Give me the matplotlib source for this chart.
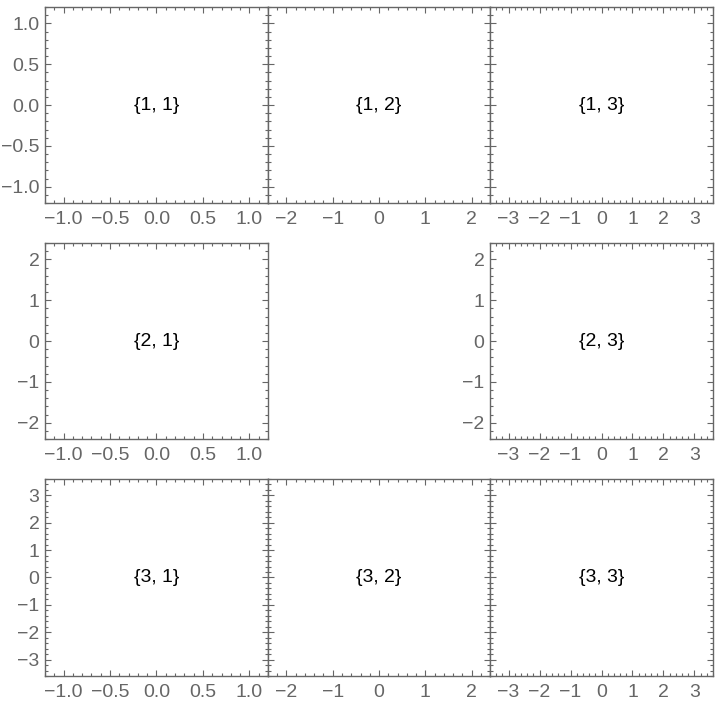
import matplotlib.pyplot as plt
from matplotlib.ticker import MultipleLocator, FuncFormatter

plt.rcParams['font.family'] = ['Liberation Sans', 'DejaVu Sans']

# grid cells, the centre one stays empty
cells = [(1, 1), (1, 2), (1, 3), (2, 1), (2, 3), (3, 1), (3, 2), (3, 3)]
half_range = [1.2, 2.4, 3.6]          # plot range per row / column index
major_step = [0.5, 1.0, 1.0]
minor_step = [0.1, 0.2, 0.2]
fmt_decimals = [1, 0, 0]

# panel boxes in figure fraction
col_x = [(0.0625, 0.3722), (0.3722, 0.6806), (0.6806, 0.9903)]
row_y = [(0.7116, 0.9900), (0.3764, 0.6548), (0.0398, 0.3196)]

gray = '#666666'

def make_fmt(d):
    def f(v, pos):
        s = f"{v:.{d}f}"
        if s.startswith('-'):
            s = '\u2212' + s[1:]
        if s == '\u22120' or s == '\u22120.0':
            s = s[1:]
        return s
    return FuncFormatter(f)

fig = plt.figure(figsize=(7.2, 7.04), dpi=100)

for (i, j) in cells:
    x0, x1 = col_x[j - 1]
    y0, y1 = row_y[i - 1]
    ax = fig.add_axes([x0, y0, x1 - x0, y1 - y0])
    ax.set_xlim(-half_range[j - 1], half_range[j - 1])
    ax.set_ylim(-half_range[i - 1], half_range[i - 1])
    ax.xaxis.set_major_locator(MultipleLocator(major_step[j - 1]))
    ax.xaxis.set_minor_locator(MultipleLocator(minor_step[j - 1]))
    ax.yaxis.set_major_locator(MultipleLocator(major_step[i - 1]))
    ax.yaxis.set_minor_locator(MultipleLocator(minor_step[i - 1]))
    ax.xaxis.set_major_formatter(make_fmt(fmt_decimals[j - 1]))
    ax.yaxis.set_major_formatter(make_fmt(fmt_decimals[i - 1]))
    show_y = (j == 1) or (i == 2)
    ax.tick_params(which='both', direction='in', top=True, right=True,
                   color=gray, width=0.8, labelcolor=gray, labelsize=14)
    ax.tick_params(axis='y', labelleft=show_y)
    ax.tick_params(which='major', length=4)
    ax.tick_params(axis='x', which='major', pad=6)
    ax.tick_params(axis='y', which='major', pad=4)
    ax.tick_params(which='minor', length=2.2)
    for sp in ax.spines.values():
        sp.set_color(gray)
        sp.set_linewidth(1.0)
    ax.text(0, 0, "{%d, %d}" % (i, j), ha='center', va='center',
            fontsize=14, color='black')

fig.savefig('out.png', dpi=100)
